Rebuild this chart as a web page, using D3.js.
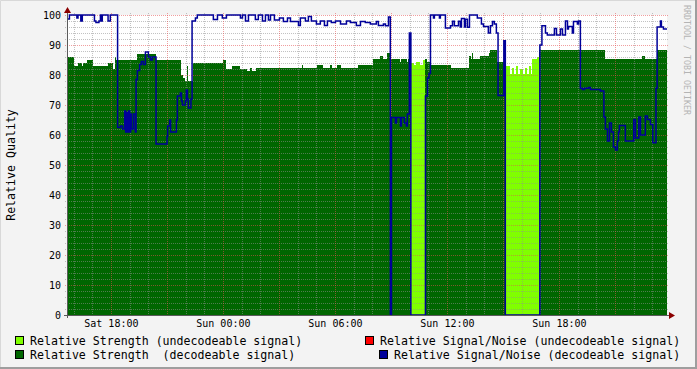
<!DOCTYPE html>
<html>
<head>
  <meta charset="utf-8">
  <script src="https://d3js.org/d3.v7.min.js"></script>
  <style>
    body { margin: 0; background: #f3f3f3; }
    svg { display: block; font-family: "DejaVu Sans Mono", monospace; }
  </style>
</head>
<body>
  <script type="text/javascript">
    // Times are hours since Sat 00:00, values are relative quality (%)
    // Relative Strength (decodeable signal)
    var strongTimes = [15.65, 16.01, 16.24, 16.46, 16.53, 16.74, 17.06, 17.87, 18.13, 18.24, 18.30, 19.42, 20.44, 21.78, 21.88, 21.99, 22.06, 22.11, 22.42, 24.03, 24.19, 24.51, 24.94, 25.31, 25.47, 25.58, 25.79, 28.26, 28.31, 29.06, 29.38, 29.76, 29.87, 30.13, 30.35, 31.26, 32.06, 32.44, 32.60, 32.81, 32.97, 33.51, 33.56, 33.88, 33.94, 34.10, 34.85, 34.96, 35.12, 36.24, 37.21, 37.29, 37.37, 37.42, 37.79, 38.28, 38.33, 38.71, 39.13, 40.96, 44.49, 46.47, 46.63, 47.28];
    var strongValues = [86, 83, 84, 83, 84, 85, 83, 84, 82, 86, 85, 87, 85, 80, 79, 78, 83, 78, 84, 85, 82, 83, 82, 81.5, 82.3, 81.5, 82.3, 83.3, 82.3, 83.3, 82.3, 83.3, 82.3, 83.3, 82.3, 83.3, 85.3, 86.3, 85.3, 87.3, 85.3, 84.3, 85.3, 84.3, 85.3, 0, 85.3, 84.2, 83.3, 82.3, 86.3, 85.3, 87.3, 85.3, 86.2, 87.3, 88.3, 84.4, 0, 88.3, 85.5, 86.5, 85.5, 88.3];

    // Relative Strength (undecodeable signal)
    var weakTimes = [15.65, 34.10, 34.26, 34.37, 34.58, 34.74, 34.85, 39.13, 39.40, 39.51, 39.62, 39.72, 39.83, 39.94, 40.10, 40.21, 40.31, 40.42, 40.53, 40.58, 40.85, 40.96];
    var weakValues = [0, 84, 83.5, 84.2, 83.5, 85, 0, 83, 80.5, 82.5, 80.5, 83, 80.5, 82, 80.5, 82.5, 80.5, 83, 80.5, 85.3, 86, 0];

    // Relative Signal/Noise (decodeable signal)
    var snTimes = [15.65, 15.78, 16.18, 16.24, 16.39, 16.47, 17.12, 17.20, 17.36, 17.44,
      17.48, 17.54, 17.85, 17.97, 18.36, 18.51, 18.62, 18.74, 18.79, 18.85,
      18.90, 18.95, 19.01, 19.06, 19.10, 19.21, 19.31, 19.35, 19.42, 19.54,
      19.63, 19.74, 19.85, 20.01, 20.12, 20.22, 20.42, 21.01, 21.04, 21.15,
      21.20, 21.51, 21.56, 21.72, 21.78, 21.83, 21.99, 22.04, 22.10, 22.15,
      22.29, 22.35, 22.53, 22.63, 23.49, 23.71, 23.97, 24.19, 24.94, 25.05,
      25.21, 25.37, 25.74, 25.90, 26.12, 26.28, 26.44, 26.55, 26.76, 27.03,
      27.24, 27.46, 27.62, 28.05, 28.15, 28.42, 28.58, 28.74, 29.01, 29.22,
      29.44, 29.60, 29.81, 30.03, 30.30, 30.62, 30.83, 31.15, 31.37, 31.63,
      31.90, 32.22, 32.33, 32.60, 32.71, 32.87, 32.97, 33.03, 33.24, 33.30,
      33.51, 33.56, 33.72, 33.83, 33.88, 33.99, 34.07, 34.85, 34.96, 35.04,
      35.12, 35.28, 35.33, 35.60, 35.65, 35.92, 36.19, 36.30, 36.40, 36.62,
      36.72, 36.78, 36.94, 36.99, 37.10, 37.21, 37.63, 37.85, 37.96, 38.22,
      38.33, 38.44, 38.54, 38.65, 38.74, 39.05, 39.13, 40.98, 41.09, 41.28,
      41.38, 41.76, 41.87, 42.08, 42.19, 42.35, 42.46, 42.51, 42.72, 42.78,
      42.99, 43.05, 43.15, 43.26, 43.37, 43.58, 43.69, 44.22, 44.41, 44.49,
      44.60, 44.71, 44.81, 44.92, 45.03, 45.13, 45.19, 45.24, 45.56, 46.01,
      46.10, 46.28, 46.37, 46.63, 46.74, 46.90, 47.03, 47.20, 47.26, 47.44,
      47.49, 47.60];
    var snValues = [98.7, 100, 99, 100, 98, 100, 98, 97.5, 98, 100,
      98, 100, 98, 100, 62.5, 63, 62, 68, 61, 67.5,
      61, 68, 61, 67, 62, 67, 61, 78.5, 81.5, 83.5,
      84.5, 83.5, 87.7, 86, 85, 86, 57, 59.5, 63, 65,
      61, 65, 73, 74, 71.3, 70, 71.3, 75, 72, 69,
      72, 98, 99, 100, 98.5, 100, 99, 100, 99, 100,
      98, 100, 98.5, 100, 98, 100, 98.3, 100, 98.3, 99,
      97.8, 99, 97.8, 96.5, 99, 98, 99.5, 98, 97, 98,
      96.5, 98, 97.5, 98, 97, 98, 97.5, 96.5, 97.8, 97.5,
      97, 97.8, 96.5, 97, 96.4, 99.3, 0, 65.8, 64, 65.8,
      63, 65.8, 64, 63, 67, 94, 0, 73, 79, 80.5,
      100, 99, 100, 99, 100, 95.7, 96.4, 97.9, 96.4, 97.9,
      96, 98.8, 96, 98.6, 95.9, 100, 99, 97, 96.2, 94,
      96.4, 97.8, 97, 94, 73.2, 91.4, 0, 90, 96.4, 94,
      93.3, 95.5, 93.3, 95.3, 93.3, 98, 95.3, 96.2, 94, 97.8,
      97, 98, 75.6, 75.2, 75.6, 75.8, 75.2, 74.7, 66, 62,
      58, 64, 61, 56, 55, 58, 61, 63.2, 58, 65.2,
      59, 66, 60, 66.3, 65.2, 63.5, 57.4, 75.6, 96, 98,
      96, 95.3];

    // Axis labels
    var yTicks = [0, 10, 20, 30, 40, 50, 60, 70, 80, 90, 100];
    var xTickHours = [18, 24, 30, 36, 42];
    var xTickLabels = ["Sat 18:00", "Sun 00:00", "Sun 06:00", "Sun 12:00", "Sun 18:00"];

    var legendItems = [
      {label: "Relative Strength (undecodeable signal)", color: "#80ff00"},
      {label: "Relative Strength  (decodeable signal)", color: "#006600"},
      {label: "Relative Signal/Noise (undecodeable signal)", color: "#ff0000"},
      {label: "Relative Signal/Noise (decodeable signal)", color: "#000099"}
    ];

    var W = 697, H = 369;
    var plotL = 67, plotR = 667, plotT = 15, plotB = 315;
    var startHour = 15.65, endHour = 47.79;

    var svg = d3.select("body").append("svg")
      .attr("width", W)
      .attr("height", H);

    // Background and frame
    svg.append("rect").attr("width", W).attr("height", H).attr("fill", "#f3f3f3");
    svg.append("path").attr("d", "M0.5," + (H - 1) + "V0.5H" + (W - 1))
      .attr("fill", "none").attr("stroke", "#d8d8d8").attr("stroke-width", 1);
    svg.append("path").attr("d", "M0," + (H - 1) + "H" + (W - 1) + "V0")
      .attr("fill", "none").attr("stroke", "#9e9e9e").attr("stroke-width", 2);

    var x = d3.scaleLinear().domain([startHour, endHour]).range([plotL, plotR]);
    var y = d3.scaleLinear().domain([0, 100]).range([plotB, plotT]);

    // Canvas
    svg.append("rect")
      .attr("x", plotL).attr("y", plotT)
      .attr("width", plotR - plotL).attr("height", plotB - plotT)
      .attr("fill", "#ffffff");

    function steps(times, values) {
      var pts = times.map(function(t, i) { return {t: t, v: values[i]}; });
      pts.push({t: endHour, v: values[values.length - 1]});
      return pts;
    }

    var area = d3.area()
      .x(function(d) { return x(d.t); })
      .y0(y(0))
      .y1(function(d) { return y(d.v); })
      .curve(d3.curveStepAfter);

    svg.append("path")
      .datum(steps(strongTimes, strongValues))
      .attr("d", area)
      .attr("fill", "#006600")
      .attr("shape-rendering", "crispEdges");

    svg.append("path")
      .datum(steps(weakTimes, weakValues))
      .attr("d", area)
      .attr("fill", "#80ff00")
      .attr("shape-rendering", "crispEdges");

    // Grid on top of the areas
    var grid = svg.append("g").attr("shape-rendering", "crispEdges");
    var minorColor = "rgba(143,143,143,0.55)";
    var majorColor = "rgba(227,79,79,0.55)";

    d3.range(0, 101, 2).forEach(function(v) {
      var yy = Math.round(y(v)) + 0.5;
      grid.append("line")
        .attr("x1", plotL - 2).attr("x2", plotR + 2)
        .attr("y1", yy).attr("y2", yy)
        .attr("stroke", v % 10 === 0 ? majorColor : minorColor)
        .attr("stroke-dasharray", "1,1");
    });

    d3.range(Math.ceil(startHour), endHour, 1).forEach(function(h) {
      var xx = Math.round(x(h)) + 0.5;
      grid.append("line")
        .attr("x1", xx).attr("x2", xx)
        .attr("y1", plotT - 2).attr("y2", plotB + 2)
        .attr("stroke", h % 3 === 0 ? majorColor : minorColor)
        .attr("stroke-dasharray", "1,1");
    });

    // Signal/Noise line
    var line = d3.line()
      .x(function(d) { return x(d.t); })
      .y(function(d) { return y(d.v); })
      .curve(d3.curveStepAfter);

    svg.append("path")
      .datum(steps(snTimes, snValues))
      .attr("d", line)
      .attr("fill", "none")
      .attr("stroke", "#000099")
      .attr("stroke-width", 1.5);

    // Axis lines and arrows
    svg.append("line")
      .attr("x1", plotL + 0.5).attr("x2", plotL + 0.5)
      .attr("y1", plotB + 3).attr("y2", plotT - 6)
      .attr("stroke", "#5a5a5a");
    svg.append("line")
      .attr("x1", plotL - 3).attr("x2", plotR + 5)
      .attr("y1", plotB + 0.5).attr("y2", plotB + 0.5)
      .attr("stroke", "#5a5a5a");
    svg.append("path")
      .attr("d", "M" + (plotL - 3) + "," + (plotT - 2) + "L" + (plotL + 0.5) + "," + (plotT - 8) + "L" + (plotL + 4) + "," + (plotT - 2) + "Z")
      .attr("fill", "#8b0000");
    svg.append("path")
      .attr("d", "M" + (plotR + 2) + "," + (plotB - 3) + "L" + (plotR + 8) + "," + (plotB + 0.5) + "L" + (plotR + 2) + "," + (plotB + 4) + "Z")
      .attr("fill", "#8b0000");

    // Y axis labels
    var yAxis = svg.append("g")
      .attr("transform", "translate(" + plotL + ",0)")
      .call(d3.axisLeft(y).tickValues(yTicks).tickSize(0).tickPadding(6));
    yAxis.select(".domain").remove();
    yAxis.selectAll("text")
      .attr("fill", "#000")
      .style("font-family", "DejaVu Sans Mono")
      .style("font-size", "10px");

    // X axis labels
    var xAxis = svg.append("g")
      .attr("transform", "translate(0," + plotB + ")")
      .call(d3.axisBottom(x).tickValues(xTickHours)
        .tickFormat(function(d, i) { return xTickLabels[i]; })
        .tickSize(0).tickPadding(5));
    xAxis.select(".domain").remove();
    xAxis.selectAll("text")
      .attr("fill", "#000")
      .style("font-family", "DejaVu Sans Mono")
      .style("font-size", "10px");

    // Y axis title
    svg.append("text")
      .attr("transform", "translate(14.5," + ((plotT + plotB) / 2) + ") rotate(-90)")
      .attr("text-anchor", "middle")
      .style("font-size", "11.6px")
      .text("Relative Quality");

    // Watermark
    svg.append("text")
      .attr("transform", "translate(683.5,5) rotate(90)")
      .attr("fill", "#b4b4b4")
      .attr("textLength", 110)
      .attr("lengthAdjust", "spacingAndGlyphs")
      .style("font-size", "9.5px")
      .text("RRDTOOL / TOBI OETIKER");

    // Legend
    var legendPos = [[15, 345], [15, 359], [365, 345], [379, 359]];
    legendItems.forEach(function(item, i) {
      var p = legendPos[i];
      svg.append("rect")
        .attr("x", p[0] + 0.5).attr("y", p[1] - 8.5)
        .attr("width", 8).attr("height", 8)
        .attr("fill", item.color)
        .attr("stroke", "#000")
        .attr("shape-rendering", "crispEdges");
      svg.append("text")
        .attr("x", p[0] + 15).attr("y", p[1])
        .style("font-size", "11.6px")
        .style("white-space", "pre")
        .attr("xml:space", "preserve")
        .text(item.label);
    });
  </script>
</body>
</html>
